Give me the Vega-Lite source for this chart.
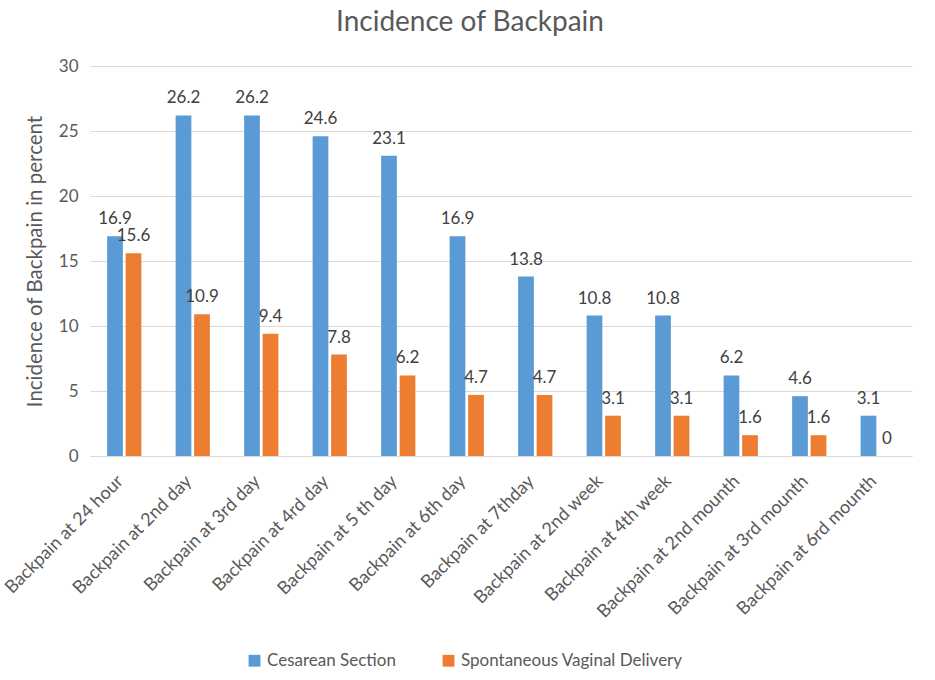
{
  "$schema": "https://vega.github.io/schema/vega-lite/v6.json",
  "autosize": {"type": "none"},
  "padding": {"left": 90, "top": 66, "right": 23, "bottom": 224},
  "width": 822,
  "height": 390,
  "background": "white",
  "title": {
    "text": "Incidence of Backpain",
    "font": "Lato",
    "fontSize": 28,
    "fontWeight": "normal",
    "color": "#595959",
    "anchor": "middle",
    "dx": -31,
    "offset": 20
  },
  "data": {
    "values": [
      {"category": "Backpain at 24 hour", "series": "Cesarean Section", "value": 16.9},
      {"category": "Backpain at 24 hour", "series": "Spontaneous Vaginal Delivery", "value": 15.6},
      {"category": "Backpain at 2nd day", "series": "Cesarean Section", "value": 26.2},
      {"category": "Backpain at 2nd day", "series": "Spontaneous Vaginal Delivery", "value": 10.9},
      {"category": "Backpain at 3rd day", "series": "Cesarean Section", "value": 26.2},
      {"category": "Backpain at 3rd day", "series": "Spontaneous Vaginal Delivery", "value": 9.4},
      {"category": "Backpain at 4rd day", "series": "Cesarean Section", "value": 24.6},
      {"category": "Backpain at 4rd day", "series": "Spontaneous Vaginal Delivery", "value": 7.8},
      {"category": "Backpain at 5 th day", "series": "Cesarean Section", "value": 23.1},
      {"category": "Backpain at 5 th day", "series": "Spontaneous Vaginal Delivery", "value": 6.2},
      {"category": "Backpain at 6th day", "series": "Cesarean Section", "value": 16.9},
      {"category": "Backpain at 6th day", "series": "Spontaneous Vaginal Delivery", "value": 4.7},
      {"category": "Backpain at 7thday", "series": "Cesarean Section", "value": 13.8},
      {"category": "Backpain at 7thday", "series": "Spontaneous Vaginal Delivery", "value": 4.7},
      {"category": "Backpain at 2nd week", "series": "Cesarean Section", "value": 10.8},
      {"category": "Backpain at 2nd week", "series": "Spontaneous Vaginal Delivery", "value": 3.1},
      {"category": "Backpain at 4th week", "series": "Cesarean Section", "value": 10.8},
      {"category": "Backpain at 4th week", "series": "Spontaneous Vaginal Delivery", "value": 3.1},
      {"category": "Backpain at 2nd mounth", "series": "Cesarean Section", "value": 6.2},
      {"category": "Backpain at 2nd mounth", "series": "Spontaneous Vaginal Delivery", "value": 1.6},
      {"category": "Backpain at 3rd mounth", "series": "Cesarean Section", "value": 4.6},
      {"category": "Backpain at 3rd mounth", "series": "Spontaneous Vaginal Delivery", "value": 1.6},
      {"category": "Backpain at 6rd mounth", "series": "Cesarean Section", "value": 3.1},
      {"category": "Backpain at 6rd mounth", "series": "Spontaneous Vaginal Delivery", "value": 0}
    ]
  },
  "encoding": {
    "x": {
      "field": "category",
      "type": "nominal",
      "sort": null,
      "title": null,
      "scale": {"paddingInner": 0.5, "paddingOuter": 0.25},
      "axis": {
        "labelAngle": -45,
        "labelFont": "Lato",
        "labelFontSize": 18,
        "labelColor": "#595959",
        "labelPadding": 16,
        "labelOffset": -10,
        "labelLimit": 0,
        "ticks": false,
        "domainColor": "#D9D9D9",
        "domainWidth": 1,
        "grid": false
      }
    },
    "xOffset": {
      "field": "series",
      "type": "nominal",
      "scale": {"paddingInner": 0.15}
    },
    "y": {
      "field": "value",
      "type": "quantitative",
      "title": "Incidence of Backpain in percent",
      "scale": {"domain": [0, 30]},
      "axis": {
        "values": [0, 5, 10, 15, 20, 25, 30],
        "labelFont": "Lato",
        "labelFontSize": 17,
        "labelColor": "#595959",
        "labelPadding": 12,
        "titleFont": "Lato",
        "titleFontSize": 20.5,
        "titleFontWeight": "normal",
        "titleColor": "#595959",
        "titlePadding": 13,
        "ticks": false,
        "domain": false,
        "gridColor": "#D9D9D9",
        "gridWidth": 1
      }
    }
  },
  "layer": [
    {
      "mark": {"type": "bar"},
      "encoding": {
        "color": {
          "field": "series",
          "type": "nominal",
          "title": null,
          "scale": {
            "domain": ["Cesarean Section", "Spontaneous Vaginal Delivery"],
            "range": ["#5B9BD5", "#ED7D31"]
          },
          "legend": {
            "orient": "none",
            "legendX": 156,
            "legendY": 586,
            "direction": "horizontal",
            "symbolType": "square",
            "symbolSize": 140,
            "symbolStrokeWidth": 0,
            "labelFont": "Lato",
            "labelFontSize": 17,
            "labelColor": "#595959",
            "labelLimit": 0,
            "columnPadding": 44
          }
        }
      }
    },
    {
      "mark": {
        "type": "text",
        "font": "Lato",
        "fontSize": 17,
        "color": "#404040",
        "baseline": "bottom",
        "dy": -8
      },
      "encoding": {
        "text": {"field": "value", "type": "quantitative"}
      }
    }
  ],
  "config": {
    "view": {"stroke": null}
  }
}
